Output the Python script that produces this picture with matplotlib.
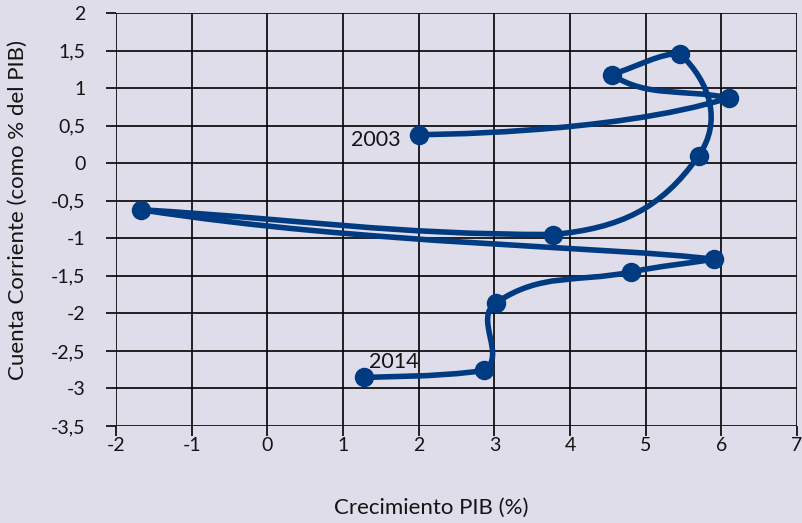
import matplotlib
matplotlib.use("Agg")
import matplotlib.pyplot as plt
from matplotlib.path import Path
from matplotlib.patches import PathPatch
from matplotlib.ticker import FuncFormatter, MultipleLocator
import numpy as np

years = ["2003", "2004", "2005", "2006", "2007", "2008", "2009", "2010", "2011", "2012", "2013", "2014"]
gdp_growth = [2.0, 6.1, 4.55, 5.45, 5.7, 3.78, -1.67, 5.9, 4.8, 3.02, 2.86, 1.28]
current_account = [0.38, 0.87, 1.18, 1.46, 0.1, -0.95, -0.62, -1.28, -1.45, -1.86, -2.76, -2.85]

bg = "#dedde9"
line_color = "#003b82"
text_color = "#141414"
plt.rcParams["font.family"] = ["Lato", "DejaVu Sans"]


def smooth_path(xs, ys, k=0.4, ratio=3.0):
    """Bezier spline: tangent along the neighbour chord, handle length proportional to
    the segment (limited by the other adjacent segment); straight at reversals;
    handles kept within the segment's y range."""
    p = np.column_stack([xs, ys]).astype(float)
    n = len(p)

    def ctrl(i, j):
        chord = p[j] - p[i]
        if i == 0 or i == n - 1:
            return p[i].copy()
        t = p[i + 1] - p[i - 1]
        if j < i:
            t = -t
        u = t / np.linalg.norm(t)
        other = p[2 * i - j] - p[i]
        if np.dot(u, chord) <= 0:
            c = p[i] + chord * k
        else:
            length = k * min(np.linalg.norm(chord), ratio * np.linalg.norm(other))
            c = p[i] + u * length
        lo, hi = min(p[i][1], p[j][1]), max(p[i][1], p[j][1])
        c[1] = min(max(c[1], lo), hi)
        return c

    verts = [tuple(p[0])]
    codes = [Path.MOVETO]
    for i in range(n - 1):
        verts += [tuple(ctrl(i, i + 1)), tuple(ctrl(i + 1, i)), tuple(p[i + 1])]
        codes += [Path.CURVE4] * 3
    return Path(verts, codes)


fig = plt.figure(figsize=(8.02, 5.23), dpi=100, facecolor=bg)
ax = fig.add_axes([116/802, 1-426/523, (797-116)/802, (426-13)/523])
ax.set_facecolor(bg)
ax.set_xlim(-2, 7)
ax.set_ylim(-3.5, 2)

ax.add_patch(PathPatch(smooth_path(gdp_growth, current_account), facecolor="none",
                       edgecolor=line_color, lw=4, capstyle="round", joinstyle="round", zorder=3))
ax.plot(gdp_growth, current_account, "o", color=line_color, ms=13, zorder=4, clip_on=False)

ax.annotate(years[0], (gdp_growth[0], current_account[0]), xytext=(-13, -4),
            textcoords="offset points", ha="right", va="center", fontsize=15.5, color=text_color)
ax.annotate(years[-1], (gdp_growth[-1], current_account[-1]), xytext=(3.5, 11),
            textcoords="offset points", ha="left", va="center", fontsize=15.5, color=text_color)

ax.xaxis.set_major_locator(MultipleLocator(1))
ax.yaxis.set_major_locator(MultipleLocator(0.5))
fmt = FuncFormatter(lambda v, pos: ("%g" % round(v, 2)).replace(".", ","))
ax.xaxis.set_major_formatter(fmt)
ax.yaxis.set_major_formatter(fmt)
ax.grid(True, color="black", lw=1.2)
ax.set_axisbelow(True)
for s in ax.spines.values():
    s.set_visible(False)
ax.tick_params(axis="both", length=7, width=1.2, color="black", labelsize=14, labelcolor=text_color)
ax.tick_params(axis="x", pad=1)
ax.tick_params(axis="y", pad=15)

ax.set_xlabel("Crecimiento PIB (%)", fontsize=16, color=text_color, va="center")
ax.set_ylabel("Cuenta Corriente (como % del PIB)", fontsize=16, color=text_color, va="center")
ax.xaxis.set_label_coords((431 - 116) / 681, (426 - 508) / 413)
ax.yaxis.set_label_coords((18 - 116) / 681, (426 - 210) / 413)

fig.savefig("out.png", dpi=100, facecolor=bg)
